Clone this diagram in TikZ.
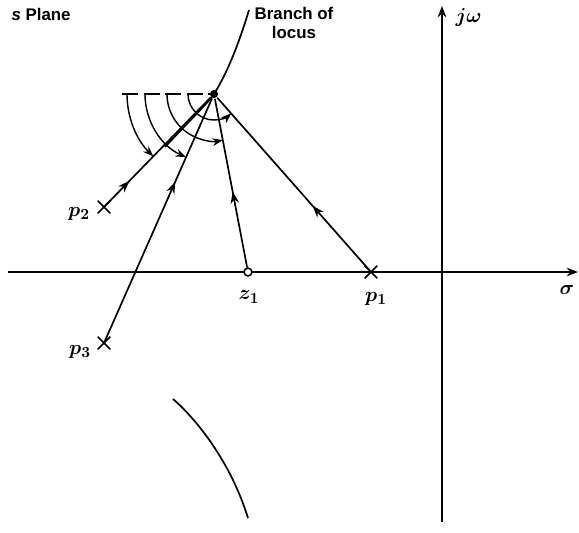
\documentclass[tikz,border=0pt]{standalone}
\usepackage{fontspec}
\setsansfont{Liberation Sans}
\usepackage{amsmath,bm}
\usetikzlibrary{arrows.meta,decorations.markings,shapes.misc}

\begin{document}
\begin{tikzpicture}[x=0.25cm,y=0.25cm,line width=1.2pt,
  txt/.style={font=\fontsize{12}{14}\selectfont\sffamily\bfseries},
  lbl/.style={font=\fontsize{15}{17}\selectfont\boldmath},
  pole/.style={draw,cross out,line width=1.2pt,minimum size=7.8pt,inner sep=0pt},
  zero/.style={draw,circle,line width=1.1pt,minimum size=5.6pt,inner sep=0pt},
  midarrow/.style={postaction={decorate,decoration={markings,
    mark=at position #1 with {\arrow{Stealth[length=8.5pt,width=6pt]}}}}},
  anglearc/.style={line width=1pt,-{Stealth[length=7.5pt,width=5.5pt]}}]
\useasboundingbox (-44.2,-26) rectangle (13.7,27.2);
% axes
\coordinate (xl) at (-43.4,0);
\coordinate (xr) at (13.6,0);
\coordinate (yb) at (0,-25);
\coordinate (yt) at (0,26.6);
\draw[line width=1.4pt,-{Stealth[length=8pt,width=6pt]}] (xl) -- (xr);
\draw[line width=1.4pt,-{Stealth[length=8pt,width=6pt]}] (yb) -- (yt);
\node[lbl,anchor=west] (jw) at (0.8,25.5) {$j\omega$};
\node[lbl] (sig) at (12.5,-1.8) {$\sigma$};
% poles, zero and test point
\node[fill,circle,inner sep=0pt,minimum size=5.8pt] (s) at (-22.8,17.8) {};
\node[zero,fill=white] (z1) at (-19.4,0) {};
\node[pole] (p1) at (-7.1,0) {};
\node[pole] (p2) at (-33.8,6.5) {};
\node[pole] (p3) at (-33.8,-7.1) {};
\node[lbl] at (-19.3,-2.5) {$z_1$};
\node[lbl] at (-6.6,-2.7) {$p_1$};
\node[lbl] at (-36.3,5.8) {$p_2$};
\node[lbl] at (-36.2,-8.0) {$p_3$};
% vectors to s
\draw[midarrow=0.24] (p2.center) -- (s);
\draw[midarrow=0.66] (p3.center) -- (s);
\draw[midarrow=0.45] (z1) -- (s);
\draw[midarrow=0.38] (p1.center) -- (s);
% angles
\coordinate (dl) at (-32,17.8);
\draw[line width=1.1pt,dash pattern=on 11.5pt off 3.8pt] (dl) -- (s.center);
\foreach \r/\a in {8.7/225.8,6.9/246.2,4.7/281,2.6/311.7}
  \draw[anglearc] ([shift={(180:\r)}]s.center) arc[start angle=180,end angle=\a,radius=\r];
% locus branches
\coordinate (b1) at (-27.7,12.5);
\coordinate (b2) at (-19.3,26.2);
\draw (b1) .. controls (-24.7,15.7) and (-23.5,16.8) .. (s.center)
  .. controls (-21.4,20) and (-20.2,23.2) .. (b2);
\coordinate (c1) at (-26.9,-12.7);
\coordinate (c2) at (-19.4,-24.6);
\draw (c1) .. controls (-24.7,-14.6) and (-21.2,-18.8) .. (c2);
\node[txt,align=center] (br) at (-14.8,24.9) {Branch of\\locus};
\node[txt,anchor=west] (pl) at (-43.6,25.8) {\itshape s\upshape{} Plane};
\end{tikzpicture}
\end{document}
